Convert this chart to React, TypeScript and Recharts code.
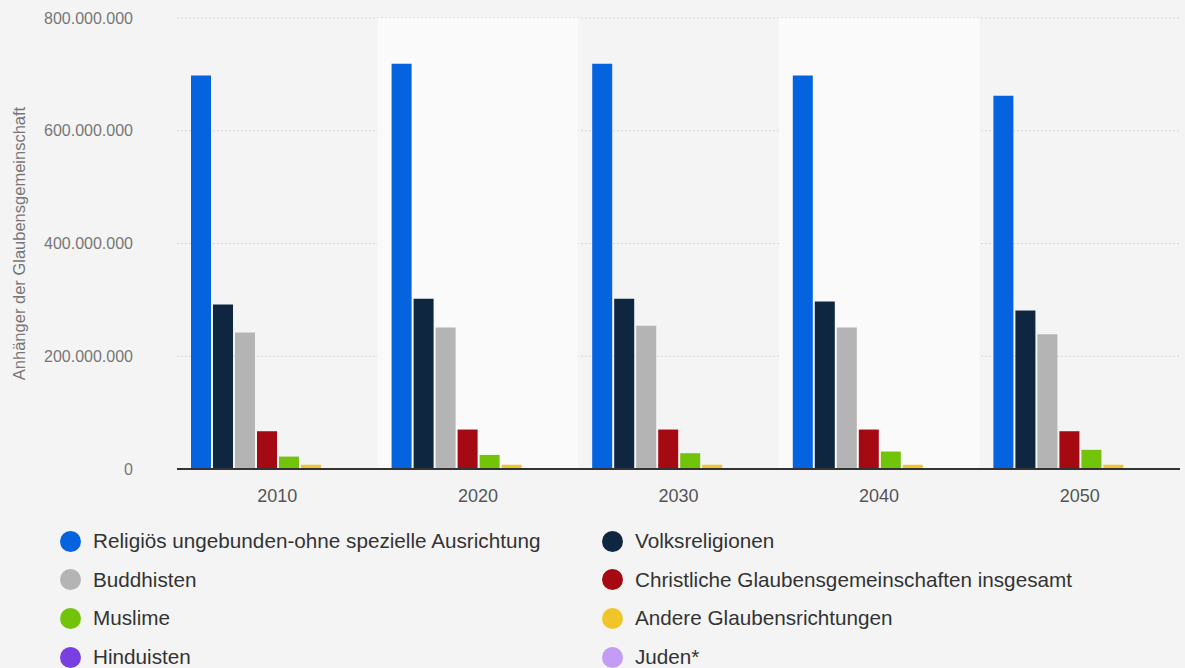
import React from "react";
import { BarChart, Bar, XAxis, YAxis, CartesianGrid, ReferenceArea } from "recharts";

const years = ["2010", "2020", "2030", "2040", "2050"];
const unaffiliated = [698000000, 719000000, 719000000, 698000000, 662000000];
const folk = [292000000, 302000000, 302000000, 297000000, 281000000];
const buddhists = [242000000, 251000000, 254000000, 251000000, 239000000];
const christians = [67000000, 70000000, 70000000, 70000000, 67000000];
const muslims = [22000000, 25000000, 28000000, 31000000, 34000000];
const others = [7500000, 7500000, 7500000, 7500000, 7500000];
const hindus = [20000, 20000, 20000, 20000, 20000];
const jews = [5000, 5000, 5000, 5000, 5000];
const yTicks = [0, 200000000, 400000000, 600000000, 800000000];

const series = [
  { key: "unaffiliated", name: "Religiös ungebunden-ohne spezielle Ausrichtung", color: "#0563e0", values: unaffiliated },
  { key: "folk", name: "Volksreligionen", color: "#0f2640", values: folk },
  { key: "buddhists", name: "Buddhisten", color: "#b4b4b4", values: buddhists },
  { key: "christians", name: "Christliche Glaubensgemeinschaften insgesamt", color: "#a50a12", values: christians },
  { key: "muslims", name: "Muslime", color: "#72c40a", values: muslims },
  { key: "others", name: "Andere Glaubensrichtungen", color: "#f0c52a", values: others },
  { key: "hindus", name: "Hinduisten", color: "#7a3fe0", values: hindus },
  { key: "jews", name: "Juden*", color: "#c39cf5", values: jews },
];

const data = years.map((y, i) => {
  const row: Record<string, any> = { year: y };
  series.forEach((s) => (row[s.key] = s.values[i]));
  return row;
});

const fmt = (v: number) => String(Math.round(v)).replace(/\B(?=(\d{3})+(?!\d))/g, ".");

const FONT = 'Arial, "Liberation Sans", Helvetica, sans-serif';

export default function App() {
  const legendRows = [
    [series[0], series[1]],
    [series[2], series[3]],
    [series[4], series[5]],
    [series[6], series[7]],
  ];
  return (
    <div style={{ position: "absolute", left: 0, top: 0, width: 1185, height: 668, background: "#f4f4f4", fontFamily: FONT, overflow: "hidden" }}>
      <BarChart
        width={1185}
        height={520}
        data={data}
        margin={{ top: 18, right: 5, left: 0, bottom: 0 }}
        barCategoryGap={14}
        barGap={2}
      >
        <ReferenceArea x1="2020" x2="2020" fill="#fafafa" fillOpacity={1} stroke="none" ifOverflow="visible" />
        <ReferenceArea x1="2040" x2="2040" fill="#fafafa" fillOpacity={1} stroke="none" ifOverflow="visible" />
        <CartesianGrid vertical={false} stroke="#d6d6d6" strokeDasharray="2 2" />
        <XAxis
          dataKey="year"
          height={51}
          tickLine={false}
          axisLine={{ stroke: "#333", strokeWidth: 2 }}
          tickSize={6}
          tickMargin={14}
          tick={{ fill: "#555", fontSize: 18, fontFamily: FONT }}
        />
        <YAxis
          width={177}
          domain={[0, 800000000]}
          ticks={yTicks}
          interval={0}
          tickFormatter={fmt}
          axisLine={false}
          tickLine={false}
          tickMargin={38}
          tick={{ fill: "#777", fontSize: 16, fontFamily: FONT }}
          label={{
            value: "Anhänger der Glaubensgemeinschaft",
            angle: -90,
            position: "insideLeft",
            offset: 19,
            style: { fill: "#777", fontSize: 16.5, fontFamily: FONT, textAnchor: "middle" },
          }}
        />
        {series.map((s) => (
          <Bar key={s.key} dataKey={s.key} name={s.name} fill={s.color} isAnimationActive={false} />
        ))}
      </BarChart>
      {legendRows.map((row, ri) =>
        row.map((s, ci) => (
          <div
            key={s.key}
            style={{
              position: "absolute",
              left: ci === 0 ? 60 : 602,
              top: 541 + ri * 38.7 - 14,
              height: 28,
              display: "flex",
              alignItems: "center",
              fontSize: 20.7,
              color: "#333",
              whiteSpace: "nowrap",
            }}
          >
            <span style={{ display: "inline-block", width: 21, height: 21, borderRadius: "50%", background: s.color, marginRight: 12 }} />
            <span>{s.name}</span>
          </div>
        ))
      )}
    </div>
  );
}
